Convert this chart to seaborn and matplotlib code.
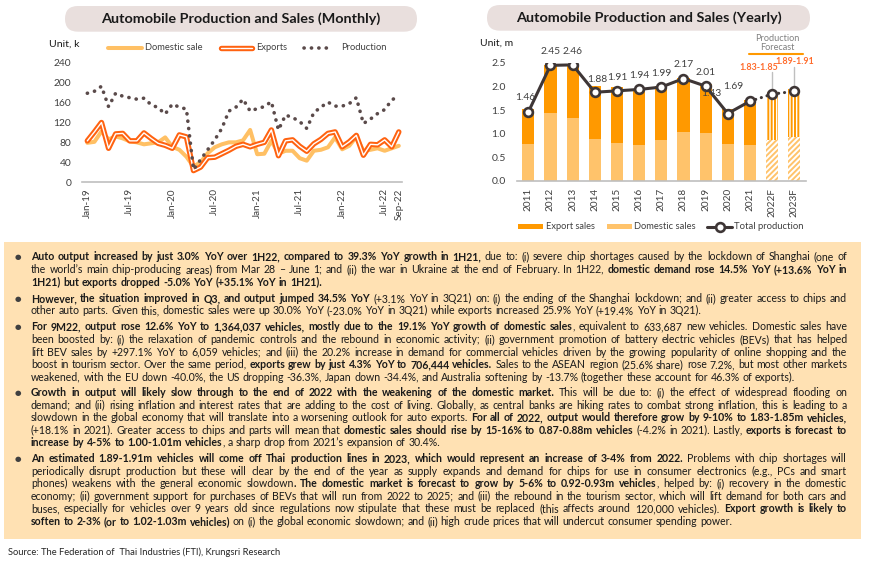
import re
import numpy as np
import pandas as pd
import seaborn as sns
import matplotlib
matplotlib.use("Agg")
import matplotlib.pyplot as plt
import matplotlib.patheffects as pe
from matplotlib.patches import FancyBboxPatch, Rectangle
from matplotlib.lines import Line2D
from matplotlib.transforms import IdentityTransform

# ---------------- data ----------------
months = ["Jan-19", "Feb-19", "Mar-19", "Apr-19", "May-19", "Jun-19", "Jul-19", "Aug-19", "Sep-19",
          "Oct-19", "Nov-19", "Dec-19", "Jan-20", "Feb-20", "Mar-20", "Apr-20", "May-20", "Jun-20",
          "Jul-20", "Aug-20", "Sep-20", "Oct-20", "Nov-20", "Dec-20", "Jan-21", "Feb-21", "Mar-21",
          "Apr-21", "May-21", "Jun-21", "Jul-21", "Aug-21", "Sep-21", "Oct-21", "Nov-21", "Dec-21",
          "Jan-22", "Feb-22", "Mar-22", "Apr-22", "May-22", "Jun-22", "Jul-22", "Aug-22", "Sep-22"]
domestic_sale = [79, 81, 102, 86, 92, 88, 82, 80, 76, 78, 80, 90, 71, 65, 51, 31, 40, 58,
                 70, 76, 80, 80, 84, 105, 56, 57, 83, 57, 63, 63, 48, 43, 63, 65, 70, 90,
                 66, 73, 91, 63, 65, 68, 63, 68, 73]
exports = [83, 101, 120, 68, 97, 98, 83, 83, 99, 88, 78, 74, 68, 95, 91, 23, 30, 49,
           50, 57, 64, 72, 76, 71, 76, 80, 105, 53, 83, 85, 72, 62, 77, 86, 98, 101,
           71, 81, 94, 54, 76, 75, 85, 71, 101]
production = [179, 183, 193, 152, 179, 173, 170, 167, 169, 156, 150, 137, 157, 151, 147, 25, 45, 65,
              85, 108, 143, 151, 167, 143, 148, 152, 162, 105, 135, 130, 122, 108, 140, 151, 161, 153,
              153, 158, 170, 118, 127, 138, 146, 165, 175]
month_ticks = ["Jan-19", "Jul-19", "Jan-20", "Jul-20", "Jan-21", "Jul-21", "Jan-22", "Jul-22", "Sep-22"]
monthly_yticks = [0, 40, 80, 120, 160, 200, 240]

years = ["2011", "2012", "2013", "2014", "2015", "2016", "2017", "2018", "2019", "2020", "2021", "2022F", "2023F"]
export_sales = [0.735, 1.026, 1.128, 1.128, 1.20, 1.188, 1.139, 1.14, 1.054, 0.736, 0.959, 1.005, 1.025]
domestic_sales = [0.794, 1.436, 1.33, 0.882, 0.799, 0.769, 0.871, 1.04, 1.007, 0.792, 0.759, 0.875, 0.925]
total_production = [1.46, 2.45, 2.46, 1.88, 1.91, 1.94, 1.99, 2.17, 2.01, 1.43, 1.69, 1.84, 1.90]
production_labels = ["1.46", "2.45", "2.46", "1.88", "1.91", "1.94", "1.99", "2.17", "2.01", "1.43", "1.69",
                     "1.83-1.85", "1.89-1.91"]
yearly_yticks = [0.0, 0.5, 1.0, 1.5, 2.0, 2.5]
yearly_ytick_labels = ["0.0", "0.5", "1.0", "1.5", "2.0", "2.5"]

# ---------------- style ----------------
W, H = 870, 563
sns.set_theme(style="white")
plt.rcParams["font.family"] = ["Lato", "DejaVu Sans"]
plt.rcParams["hatch.linewidth"] = 1.4

C_DOM = "#FFC064"
C_EXP = "#FF6210"
C_PROD = "#5A4A4A"
C_EXPB = "#FF9900"
C_DOMB = "#FFC36B"
C_LINE = "#3E3636"
C_FC = "#FF6B2B"
C_TXT = "#1A1A1A"
C_TICK = "#404040"
C_AXIS = "#BFBFBF"

fig = plt.figure(figsize=(W / 100, H / 100), dpi=100)
fig.patch.set_facecolor("white")
renderer = fig.canvas.get_renderer()


def fx(x):
    return x / W


def fy(y):
    return 1 - y / H


def fit(t, target):
    w = t.get_window_extent(renderer).width
    if w > 0:
        t.set_fontsize(t.get_fontsize() * target / w)
    return t


def title_box(x0, x1, y0, y1):
    h = y1 - y0
    box = FancyBboxPatch((x0, H - y1), x1 - x0, h, boxstyle=f"round,pad=0,rounding_size={h / 2}",
                         transform=IdentityTransform(), facecolor="#E9DFDD", edgecolor="none", zorder=0)
    fig.add_artist(box)


# ---------------- title boxes ----------------
title_box(65, 417, 6, 31.7)
title_box(487, 810, 5, 30.7)
t = fig.text(fx(241), fy(18.8), "Automobile Production and Sales (Monthly)", ha="center", va="center",
             fontsize=10, fontweight="bold", color=C_TXT)
fit(t, 281)
t = fig.text(fx(648.5), fy(18.0), "Automobile Production and Sales (Yearly)", ha="center", va="center",
             fontsize=10, fontweight="bold", color=C_TXT)
fit(t, 266)

# ---------------- monthly chart ----------------
ax1 = fig.add_axes([fx(82.5), fy(182), (401.7 - 82.5) / W, (182 - 63) / H])
mdf = pd.DataFrame({"pos": np.arange(len(months)), "domestic": domestic_sale,
                    "exports": exports, "production": production})
sns.lineplot(data=mdf, x="pos", y="domestic", ax=ax1, color=C_DOM, linewidth=2.9)
sns.lineplot(data=mdf, x="pos", y="exports", ax=ax1, color="white", linewidth=1.0,
             path_effects=[pe.Stroke(linewidth=3.9, foreground=C_EXP), pe.Normal()])
sns.lineplot(data=mdf, x="pos", y="production", ax=ax1, color=C_PROD, linewidth=2.6)
pl = ax1.lines[-1]
pl.set_linestyle((0, (0.05, 2.0)))
pl.set_dash_capstyle("round")

ax1.set_xlim(-0.68, 44.41)
ax1.set_ylim(0, 240)
ax1.set_yticks(monthly_yticks)
ax1.set_yticklabels([str(v) for v in monthly_yticks])
ax1.set_xticks([months.index(m) for m in month_ticks])
ax1.set_xticklabels(month_ticks, rotation=90)
ax1.set_xlabel("")
ax1.set_ylabel("")
for s in ["top", "right", "left"]:
    ax1.spines[s].set_visible(False)
ax1.spines["bottom"].set_color(C_AXIS)
ax1.spines["bottom"].set_linewidth(1.2)
ax1.tick_params(axis="y", length=0, pad=8, labelsize=7.4, labelcolor=C_TICK)
ax1.tick_params(axis="x", length=0, pad=4.5, labelsize=7.1, labelcolor=C_TICK)
ax1.set_facecolor("none")

t = fig.text(fx(49.3), fy(44), "Unit, k", ha="left", va="center", fontsize=7.5, color=C_TXT)
fit(t, 30)

# monthly legend (drawn by hand at the legend's place)
ly = fy(48)
l = Line2D([fx(108), fx(142)], [ly, ly], transform=fig.transFigure, color=C_DOM, linewidth=2.9)
fig.add_artist(l)
t = fig.text(fx(145), ly, "Domestic sale", ha="left", va="center", fontsize=7.5, color=C_TICK)
fit(t, 57)
l = Line2D([fx(221), fx(252)], [ly, ly], transform=fig.transFigure, color="white", linewidth=1.0,
           path_effects=[pe.Stroke(linewidth=3.9, foreground=C_EXP), pe.Normal()])
fig.add_artist(l)
t = fig.text(fx(256), ly, "Exports", ha="left", va="center", fontsize=7.5, color=C_TICK)
fit(t, 31)
l = Line2D([fx(304), fx(333)], [ly, ly], transform=fig.transFigure, color=C_PROD, linewidth=2.6,
           linestyle=(0, (0.05, 2.0)), dash_capstyle="round")
fig.add_artist(l)
t = fig.text(fx(341), ly, "Production", ha="left", va="center", fontsize=7.5, color=C_TICK)
fit(t, 45)

# ---------------- yearly chart ----------------
ax2 = fig.add_axes([fx(517), fy(181), 289 / W, 118 / H])
pos = np.arange(len(years))
ydf = pd.DataFrame({"pos": pos, "total": np.array(export_sales) + np.array(domestic_sales),
                    "domestic": domestic_sales, "production": total_production})
sns.barplot(data=ydf, x="pos", y="total", ax=ax2, native_scale=True, orient="v", width=0.55,
            color=C_EXPB, saturation=1, errorbar=None, linewidth=0)
bars_total = list(ax2.patches)
sns.barplot(data=ydf, x="pos", y="domestic", ax=ax2, native_scale=True, orient="v", width=0.55,
            color=C_DOMB, saturation=1, errorbar=None, linewidth=0)
bars_dom = list(ax2.patches)[len(bars_total):]

forecast = [i for i, y in enumerate(years) if y.endswith("F")]
last_actual = min(forecast) - 1
for i in forecast:
    bt = bars_total[i]
    bt.set_facecolor("white")
    bt.set_edgecolor(C_EXPB)
    bt.set_hatch("|||||")
    bt.set_linewidth(0)
    bd = bars_dom[i]
    bd.set_facecolor("white")
    bd.set_edgecolor(C_DOMB)
    bd.set_hatch("//////")
    bd.set_linewidth(0)

act = ydf[ydf["pos"] <= last_actual]
fc = ydf[ydf["pos"] >= last_actual]
sns.lineplot(data=fc, x="pos", y="production", ax=ax2, color=C_LINE, linewidth=2.2)
dl = ax2.lines[-1]
dl.set_linestyle((0, (0.05, 1.9)))
dl.set_dash_capstyle("round")
sns.lineplot(data=act, x="pos", y="production", ax=ax2, color=C_LINE, linewidth=2.2)
sns.lineplot(data=ydf, x="pos", y="production", ax=ax2, linestyle="none", marker="o", markersize=6.3,
             markerfacecolor="white", markeredgecolor=C_LINE, markeredgewidth=1.9, zorder=5)

# data labels
label_off = {0: (-0.12, 0.30), 3: (0.1, 0.27)}
special = {9: (8.27, 1.86), 10: (9.25, 2.01), 11: (10.42, 2.41), 12: (12.02, 2.53)}
for i, lab in enumerate(production_labels):
    if i in special:
        lx, lyv = special[i]
    else:
        dx, dy = label_off.get(i, (0.0, 0.29))
        lx, lyv = i + dx, total_production[i] + dy
    if i in forecast:
        ax2.text(lx, lyv, lab, ha="center", va="center", fontsize=6.4, fontweight="bold", color=C_FC,
                 zorder=7)
    else:
        ax2.text(lx, lyv, lab, ha="center", va="center", fontsize=7.4, color=C_TICK, zorder=7)
# leader lines from forecast labels
ax2.plot([11, 11], [2.30, 1.95], color=C_AXIS, linewidth=1.0, zorder=1)
ax2.plot([12, 12], [2.42, 2.01], color=C_AXIS, linewidth=1.0, zorder=1)

ax2.set_xlim(-0.51, 12.53)
ax2.set_ylim(0, 2.5)
ax2.set_yticks(yearly_yticks)
ax2.set_yticklabels(yearly_ytick_labels)
ax2.set_xticks(pos)
ax2.set_xticklabels(years, rotation=90)
ax2.set_xlabel("")
ax2.set_ylabel("")
for s in ["top", "right", "left"]:
    ax2.spines[s].set_visible(False)
ax2.spines["bottom"].set_color(C_AXIS)
ax2.spines["bottom"].set_linewidth(1.2)
ax2.tick_params(axis="y", length=0, pad=8, labelsize=7.5, labelcolor=C_TICK)
ax2.tick_params(axis="x", length=0, pad=5, labelsize=7.2, labelcolor=C_TICK)
ax2.set_facecolor("none")

t = fig.text(fx(480), fy(42.7), "Unit, m", ha="left", va="center", fontsize=7.5, color=C_TXT)
fit(t, 33)
fig.text(fx(777), fy(43), "Production\nForecast", ha="center", va="center", fontsize=6.6,
         color="#808080", linespacing=1.0)
fig.add_artist(Line2D([fx(749), fx(803)], [fy(54.3), fy(54.3)], transform=fig.transFigure,
                      color=C_EXPB, linewidth=1.5))

# yearly legend
ly = fy(226.5)
fig.add_artist(Rectangle((fx(518), fy(229)), 25 / W, 5 / H, transform=fig.transFigure,
                         facecolor=C_EXPB, edgecolor="none"))
t = fig.text(fx(546), ly, "Export sales", ha="left", va="center", fontsize=7.5, color=C_TICK)
fit(t, 49)
fig.add_artist(Rectangle((fx(607), fy(229)), 25 / W, 5 / H, transform=fig.transFigure,
                         facecolor=C_DOMB, edgecolor="none"))
t = fig.text(fx(634), ly, "Domestic sales", ha="left", va="center", fontsize=7.5, color=C_TICK)
fit(t, 61)
fig.add_artist(Line2D([fx(707), fx(732)], [ly, ly], transform=fig.transFigure, color=C_LINE,
                      linewidth=2.2))
fig.add_artist(Line2D([fx(720)], [ly], transform=fig.transFigure, linestyle="none", marker="o",
                      markersize=6.3, markerfacecolor="white", markeredgecolor=C_LINE,
                      markeredgewidth=1.9))
t = fig.text(fx(734), ly, "Total production", ha="left", va="center", fontsize=7.5, color=C_TICK)
fit(t, 69)

# ---------------- text box ----------------
fig.add_artist(Rectangle((fx(4), fy(539)), 857 / W, (539 - 241.7) / H, transform=fig.transFigure,
                         facecolor="#FFE1B3", edgecolor="none", zorder=0))

paragraphs = [
    [
        [("Auto output increased by just 3.0% YoY over 1H22, compared to 39.3% YoY growth in 1H21,", True),
         (" due to: (i) severe chip shortages caused by the lockdown of Shanghai (one of", False)],
        [("the world\u2019s main chip-producing areas) from Mar 28 \u2013 June 1; and (ii) the war in Ukraine at the end of February. In 1H22, ", False),
         ("domestic demand rose 14.5% YoY (+13.6% YoY in", True)],
        [("1H21) but exports dropped -5.0% YoY (+35.1% YoY in 1H21).", True)],
    ],
    [
        [("However, the situation improved in Q3, and output jumped 34.5% YoY", True),
         (" (+3.1% YoY in 3Q21) on: (i) the ending of the Shanghai lockdown; and (ii) greater access to chips and", False)],
        [("other auto parts. Given this, domestic sales were up 30.0% YoY (-23.0% YoY in 3Q21) while exports increased 25.9% YoY (+19.4% YoY in 3Q21).", False)],
    ],
    [
        [("For 9M22, output rose 12.6% YoY to 1,364,037 vehicles, mostly due to the 19.1% YoY growth of domestic sales", True),
         (", equivalent to 633,687 new vehicles. Domestic sales have", False)],
        [("been boosted by: (i) the relaxation of pandemic controls and the rebound in economic activity; (ii) government promotion of battery electric vehicles (BEVs) that has helped", False)],
        [("lift BEV sales by +297.1% YoY to 6,059 vehicles; and (iii) the 20.2% increase in demand for commercial vehicles driven by the growing popularity of online shopping and the", False)],
        [("boost in tourism sector. Over the same period, ", False),
         ("exports grew by just 4.3% YoY to 706,444 vehicles.", True),
         (" Sales to the ASEAN region (25.6% share) rose 7.2%, but most other markets", False)],
        [("weakened, with the EU down -40.0%, the US dropping -36.3%, Japan down -34.4%, and Australia softening by -13.7% (together these account for 46.3% of exports).", False)],
    ],
    [
        [("Growth in output will likely slow through to the end of 2022 with the weakening of the domestic market.", True),
         (" This will be due to: (i) the effect of widespread flooding on", False)],
        [("demand; and (ii) rising inflation and interest rates that are adding to the cost of living. Globally, as central banks are hiking rates to combat strong inflation, this is leading to a", False)],
        [("slowdown in the global economy that will translate into a worsening outlook for auto exports. ", False),
         ("For all of 2022, output would therefore grow by 9-10% to 1.83-1.85m vehicles,", True)],
        [("(+18.1% in 2021). Greater access to chips and parts will mean that ", False),
         ("domestic sales should rise by 15-16% to 0.87-0.88m vehicles", True),
         (" (-4.2% in 2021). Lastly, ", False), ("exports is forecast to", True)],
        [("increase by 4-5% to 1.00-1.01m vehicles", True),
         (", a sharp drop from 2021\u2019s expansion of 30.4%.", False)],
    ],
    [
        [("An estimated 1.89-1.91m vehicles will come off Thai production lines in 2023, which would represent an increase of 3-4% from 2022.", True),
         (" Problems with chip shortages will", False)],
        [("periodically disrupt production but these will clear by the end of the year as supply expands and demand for chips for use in consumer electronics (e.g., PCs and smart", False)],
        [("phones) weakens with the general economic slowdown", False),
         (". The domestic market is forecast to grow by 5-6% to 0.92-0.93m vehicles", True),
         (", helped by: (i) recovery in the domestic", False)],
        [("economy; (ii) government support for purchases of BEVs that will run from 2022 to 2025; and (iii) the rebound in the tourism sector, which will lift demand for both cars and", False)],
        [("buses, especially for vehicles over 9 years old since regulations now stipulate that these must be replaced (this affects around 120,000 vehicles). ", False),
         ("Export growth is likely to", True)],
        [("soften to 2-3% (or to 1.02-1.03m vehicles)", True),
         (" on (i) the global economic slowdown; and (ii) high crude prices that will undercut consumer spending power.", False)],
    ],
]
para_starts = [256.7, 298.3, 326.7, 392.3, 458.3]
PITCH = 12.6
X0, X1 = 31.0, 847.0

_cache = {}


def tw(s, bold, fs):
    key = (s, bold, fs)
    if key not in _cache:
        tt = fig.text(0, 0, s, fontsize=fs, fontweight="bold" if bold else "normal")
        _cache[key] = tt.get_window_extent(renderer).width
        tt.remove()
    return _cache[key]


def words_of(line):
    words, cur = [], []
    for txt, b in line:
        for p in re.split(r"( )", txt):
            if p == " ":
                if cur:
                    words.append(cur)
                    cur = []
            elif p:
                cur.append((p, b))
    if cur:
        words.append(cur)
    return words


def space_w(fs):
    return tw("a a", False, fs) - tw("aa", False, fs)


def natural(line, fs):
    ws = words_of(line)
    return sum(tw(p, b, fs) for w in ws for p, b in w) + (len(ws) - 1) * space_w(fs)


fs = 7.2
maxw = max(natural(line, fs) for para in paragraphs for line in para)
fs = round(fs * (X1 - X0) / maxw * 0.995, 2)

for para, y0 in zip(paragraphs, para_starts):
    fig.text(fx(17.5), fy(y0 + 0.3), "\u25cf", ha="center", va="center", fontsize=5.4,
             color="#404040", family="DejaVu Sans")
    for li, line in enumerate(para):
        yc = y0 + li * PITCH
        base = fy(yc + 3.6)
        ws = words_of(line)
        widths = [sum(tw(p, b, fs) for p, b in w) for w in ws]
        last = li == len(para) - 1
        if last or len(ws) < 2:
            gap = space_w(fs)
        else:
            gap = (X1 - X0 - sum(widths)) / (len(ws) - 1)
        x = X0
        for w, wd in zip(ws, widths):
            xx = x
            for p, b in w:
                fig.text(fx(xx), base, p, ha="left", va="baseline", fontsize=fs,
                         fontweight="bold" if b else "normal", color=C_TXT)
                xx += tw(p, b, fs)
            x += wd + gap

t = fig.text(fx(8.3), fy(552.3), "Source: The Federation of  Thai Industries (FTI), Krungsri Research",
             ha="left", va="center", fontsize=7, color="#262626")
fit(t, 273)

fig.savefig("out.png", dpi=100, facecolor="white")
